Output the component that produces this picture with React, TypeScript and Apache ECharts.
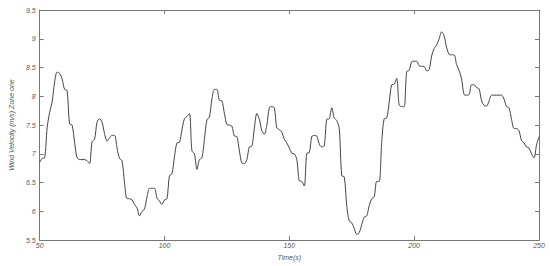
import React, { useEffect, useRef } from "react";
import * as echarts from "echarts";

const times: number[] = [];
for (let t = 50; t <= 250; t++) times.push(t);

const velocity: number[] = [
  6.85, 6.92, 6.93, 7.45, 7.72, 7.9, 8.25, 8.42, 8.4, 8.3,
  8.12, 8.1, 7.52, 7.5, 7.2, 6.93, 6.9, 6.9, 6.9, 6.88,
  6.83, 7.21, 7.25, 7.55, 7.61, 7.55, 7.35, 7.22, 7.28, 7.32,
  7.32, 7.1, 6.92, 6.88, 6.5, 6.22, 6.22, 6.2, 6.12, 6.06,
  5.92, 6.0, 6.04, 6.25, 6.4, 6.4, 6.4, 6.23, 6.18, 6.12,
  6.2, 6.22, 6.62, 6.65, 6.95, 7.19, 7.2, 7.42, 7.61, 7.65,
  7.7, 7.05, 7.0, 6.73, 6.9, 6.93, 7.25, 7.59, 7.64, 7.95,
  8.12, 8.12, 7.93, 7.92, 7.7, 7.51, 7.5, 7.48, 7.31, 7.3,
  7.05, 6.84, 6.83, 6.9, 7.12, 7.13, 7.45, 7.7, 7.6, 7.4,
  7.34, 7.5, 7.8, 7.82, 7.8, 7.45, 7.42, 7.38, 7.25, 7.19,
  7.1, 7.01, 7.0, 6.9, 6.53, 6.52, 6.44, 7.01, 7.02, 7.3,
  7.32, 7.31, 7.17, 7.12, 7.14, 7.6, 7.61, 7.8, 7.62, 7.58,
  7.44, 6.62, 6.6, 6.1, 5.83, 5.8, 5.7, 5.6, 5.63, 5.77,
  5.9, 5.92, 6.1, 6.22, 6.25, 6.52, 6.52, 7.2, 7.61, 7.62,
  7.9, 8.2, 8.21, 8.31, 7.85, 7.82, 7.82, 8.43, 8.45, 8.6,
  8.61, 8.61, 8.53, 8.52, 8.52, 8.44, 8.46, 8.7, 8.83, 8.89,
  9.0, 9.12, 9.05, 8.85, 8.73, 8.72, 8.72, 8.55, 8.45, 8.3,
  8.03, 8.02, 8.03, 8.2, 8.2, 8.15, 8.13, 7.92, 7.84, 7.83,
  7.92, 8.02, 8.02, 8.02, 8.02, 8.02, 7.95, 7.82, 7.8, 7.6,
  7.44, 7.44, 7.4, 7.23, 7.19, 7.12, 7.1, 7.0, 6.93, 7.15,
  7.3,
];

const xTicks = [50, 100, 150, 200, 250];
const yTicks = [5.5, 6, 6.5, 7, 7.5, 8, 8.5, 9, 9.5];

export default function App() {
  const ref = useRef<HTMLDivElement>(null);
  useEffect(() => {
    if (!ref.current) return;
    const chart = echarts.init(ref.current, null, { renderer: "svg" });
    const labelStyle = {
      color: "#555",
      fontSize: 7,
      fontStyle: "italic" as const,
      fontFamily: "Liberation Sans, Arial, sans-serif",
    };
    const axisLine = { show: true, lineStyle: { color: "#777", width: 1 } };
    const tick = { show: true, inside: true, length: 4, lineStyle: { color: "#777" } };
    chart.setOption({
      animation: false,
      backgroundColor: "#fff",
      grid: { left: 29, right: 11, top: 10, bottom: 20, containLabel: false },
      xAxis: [
        {
          type: "value",
          min: xTicks[0],
          max: xTicks[xTicks.length - 1],
          interval: 50,
          name: "Time(s)",
          nameLocation: "middle",
          nameGap: 12,
          nameTextStyle: labelStyle,
          axisLine,
          axisTick: tick,
          axisLabel: { ...labelStyle, margin: 2 },
          splitLine: { show: false },
        },
        {
          type: "value",
          position: "top",
          min: xTicks[0],
          max: xTicks[xTicks.length - 1],
          interval: 50,
          axisLine,
          axisTick: tick,
          axisLabel: { show: false },
          splitLine: { show: false },
        },
      ],
      yAxis: [
        {
          type: "value",
          min: yTicks[0],
          max: yTicks[yTicks.length - 1],
          interval: 0.5,
          name: "Wind Velocity (m/s) Zone one",
          nameLocation: "middle",
          nameGap: 19,
          nameTextStyle: labelStyle,
          axisLine,
          axisTick: tick,
          axisLabel: {
            ...labelStyle,
            margin: 4,
            formatter: (v: number) => String(v),
          },
          splitLine: { show: false },
        },
        {
          type: "value",
          position: "right",
          min: yTicks[0],
          max: yTicks[yTicks.length - 1],
          interval: 0.5,
          axisLine,
          axisTick: tick,
          axisLabel: { show: false },
          splitLine: { show: false },
        },
      ],
      series: [
        {
          type: "line",
          data: times.map((t, i) => [t, velocity[i]]),
          showSymbol: false,
          smooth: 0.3,
          lineStyle: { color: "#444", width: 1 },
          xAxisIndex: 0,
          yAxisIndex: 0,
        },
      ],
    });
    return () => chart.dispose();
  }, []);
  return (
    <div
      ref={ref}
      style={{ position: "absolute", left: 0, top: 0, width: 550, height: 266 }}
    />
  );
}
